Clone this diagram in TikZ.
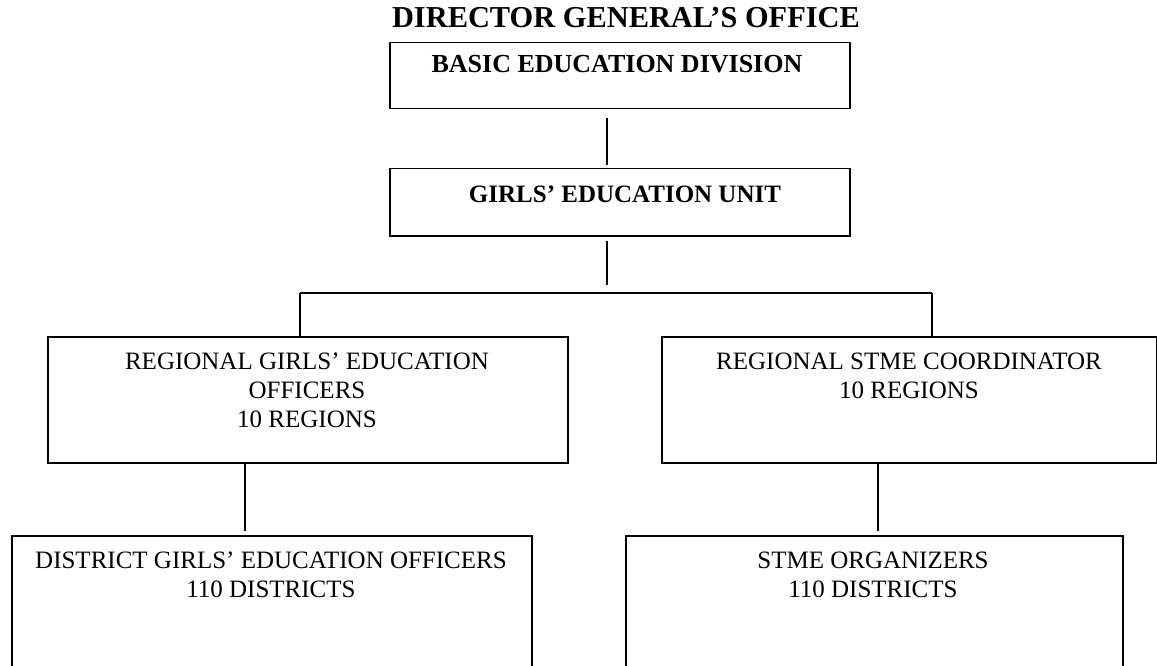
\documentclass[tikz,border=0pt]{standalone}
\usepackage{fontspec}
\setmainfont{Liberation Serif}
\tikzset{
  box/.style={draw=black, line width=1.5pt, rectangle, inner sep=0pt, anchor=north west},
  line/.style={draw=black, line width=1.5pt},
  txt/.style={anchor=north, inner sep=0pt, align=center, font=\fontsize{25}{29}\selectfont},
  btxt/.style={anchor=base, inner sep=0pt, font=\bfseries\fontsize{25}{29}\selectfont},
}
\begin{document}
\begin{tikzpicture}[x=1pt,y=-1pt]
\useasboundingbox (0,0) rectangle (1157,666);
\clip (0,0) rectangle (1157,666);
% title
\node[anchor=base, inner sep=0pt, font=\bfseries\fontsize{30.4}{34}\selectfont] (title) at (626,28) {DIRECTOR GENERAL’S OFFICE};
% boxes
\node[box, minimum width=460, minimum height=66] (bed) at (389,42) {};
\node[btxt, font=\bfseries\fontsize{26}{30}\selectfont] (bedt) at (617,73) {BASIC EDUCATION DIVISION};
\node[box, minimum width=460, minimum height=67] (geu) at (389,168) {};
\node[btxt] (geut) at (625,202) {GIRLS’ EDUCATION UNIT};
\node[box, minimum width=520, minimum height=126] (rgeo) at (47,336) {};
\node[txt] (rgeot) at (307,352.5) {REGIONAL GIRLS’ EDUCATION\\OFFICERS\\10 REGIONS};
\node[box, minimum width=495, minimum height=126] (rsc) at (661,336) {};
\node[txt] (rsct) at (909,352.5) {REGIONAL STME COORDINATOR\\10 REGIONS};
\node[box, minimum width=520, minimum height=200] (dgeo) at (11,535) {};
\node[txt] (dgeot) at (271,551.5) {DISTRICT GIRLS’ EDUCATION OFFICERS\\110 DISTRICTS};
\node[box, minimum width=497, minimum height=200] (so) at (625,535) {};
\node[txt] (sot) at (873,551.5) {STME ORGANIZERS\\110 DISTRICTS};
% connectors
\coordinate (bar) at (607,293);
\coordinate (bl) at (300,293);
\coordinate (br) at (932,293);
\draw[line, shorten <=9pt, shorten >=3pt] (bed.south -| bar) -- (geu.north -| bar);
\draw[line, shorten <=4pt, shorten >=8pt] (geu.south -| bar) -- (bar);
\draw[line] (bl) -- (br);
\draw[line] (bl) -- (bl |- rgeo.north);
\draw[line] (br) -- (br |- rsc.north);
\coordinate (ll) at (245,462);
\coordinate (lr) at (878,462);
\draw[line, shorten >=4pt] (ll |- rgeo.south) -- (ll |- dgeo.north);
\draw[line, shorten >=4pt] (lr |- rsc.south) -- (lr |- so.north);
\end{tikzpicture}
\end{document}
